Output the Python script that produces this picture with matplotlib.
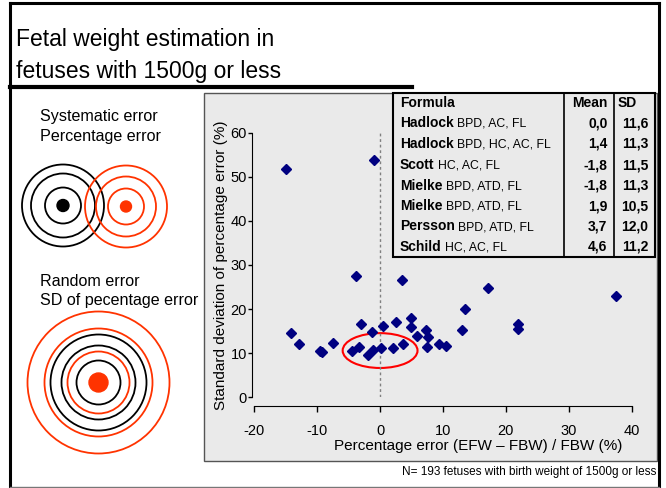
import numpy as np
import matplotlib
matplotlib.use('Agg')
import matplotlib.pyplot as plt
from matplotlib.patches import Ellipse, Circle, Rectangle
from matplotlib import font_manager

plt.rcParams['font.family'] = ['Liberation Sans', 'DejaVu Sans']
plt.rcParams['axes.unicode_minus'] = False

# mean percentage error vs SD of percentage error, one point per formula
mean_err = [-14.9, -1.0, -14.2, -12.9, -9.5, -9.3, -7.5, -4.4, -3.4, -3.9, -3.0,
            -1.3, -1.9, -1.2, 0.4, 0.2, 2.5, 2.0, 3.5, 3.7, 4.9, 4.9, 5.8,
            7.3, 7.6, 7.5, 9.4, 10.4, 13.1, 13.5, 17.1, 21.9, 21.9, 37.5]
sd_err = [51.7, 53.9, 14.5, 12.0, 10.5, 10.3, 12.4, 10.6, 11.3, 27.5, 16.6,
          14.8, 9.5, 10.8, 16.1, 11.1, 17.1, 11.1, 26.7, 12.0, 17.9, 15.9, 13.8,
          15.2, 13.6, 11.4, 12.0, 11.7, 15.3, 20.0, 24.8, 16.7, 15.5, 23.0]

tbl_names = ['Hadlock', 'Hadlock', 'Scott', 'Mielke', 'Mielke', 'Persson', 'Schild']
tbl_params = ['BPD, AC, FL', 'BPD, HC, AC, FL', 'HC, AC, FL', 'BPD, ATD, FL',
              'BPD, ATD, FL', 'BPD, ATD, FL', 'HC, AC, FL']
tbl_mean = ['0,0', '1,4', '-1,8', '-1,8', '1,9', '3,7', '4,6']
tbl_sd = ['11,6', '11,3', '11,5', '11,3', '10,5', '12,0', '11,2']

red = '#ff3300'
panel_gray = '#eaeaea'

fig = plt.figure(figsize=(6.66, 4.88), dpi=100)

# background layer in pixel coordinates
bg = fig.add_axes([0, 0, 1, 1], zorder=0)
bg.set_xlim(0, 666)
bg.set_ylim(488, 0)
bg.axis('off')

# slide frame
bg.plot([10, 10], [3, 487], color='black', lw=2.2)
bg.plot([10, 659], [3, 3], color='black', lw=2.2)
bg.plot([659, 659], [3, 487], color='black', lw=2.2)
bg.plot([10, 659], [487, 487], color='#777777', lw=1)
bg.plot([10, 412], [87, 87], color='black', lw=3)

# title (narrow face if we have it)
names = {f.name for f in font_manager.fontManager.ttflist}
tfam = ['Liberation Sans Narrow'] if 'Liberation Sans Narrow' in names else ['Liberation Sans']
tsize = 19.5 if tfam[0] == 'Liberation Sans Narrow' else 16.5
bg.text(16, 45.7, 'Fetal weight estimation in', fontsize=tsize, family=tfam, va='baseline')
bg.text(16, 78, 'fetuses with 1500g or less', fontsize=tsize, family=tfam, va='baseline')

# gray plot panel
bg.add_patch(Rectangle((204, 93), 453, 368, facecolor=panel_gray, edgecolor='#555555', lw=1))

# left side explanation
bg.text(40.5, 117, 'Systematic error', fontsize=11.6, va='center')
bg.text(40.5, 136, 'Percentage error', fontsize=11.6, va='center')
bg.text(40.5, 281, 'Random error', fontsize=11.6, va='center')
bg.text(40.5, 301, 'SD of pecentage error', fontsize=11.6, va='center')

for r in [41, 32, 18]:
    bg.add_patch(Circle((63, 205.5), r, fill=False, color='black', lw=1.3))
bg.add_patch(Circle((63, 205.5), 6, color='black'))
for r in [41, 30, 18]:
    bg.add_patch(Circle((126, 206.5), r, fill=False, color=red, lw=1.3))
bg.add_patch(Circle((126, 206.5), 5.5, color=red))

for r, c in [(71, red), (54, red), (48, 'black'), (37, 'black'), (31, red), (22, 'black')]:
    bg.add_patch(Circle((98.5, 382.5), r, fill=False, color=c, lw=1.3))
bg.add_patch(Circle((98.5, 382.5), 9.5, color=red))

# footnote
bg.text(656, 472, 'N= 193 fetuses with birth weight of 1500g or less', fontsize=8.5,
        ha='right', va='center')

# table
bg.add_patch(Rectangle((392.7, 93.3), 262.3, 163.4, facecolor=panel_gray, edgecolor='black', lw=1.5))
bg.plot([564.3, 564.3], [93.3, 256.7], color='black', lw=1.2)
bg.plot([614.3, 614.3], [93.3, 256.7], color='black', lw=1.2)
row_y = [102.7, 123.3, 144.0, 165.0, 185.7, 206.2, 226.5, 246.7]
bg.text(400, row_y[0], 'Formula', fontsize=10, weight='bold', va='center')
bg.text(607.5, row_y[0], 'Mean', fontsize=10, weight='bold', va='center', ha='right')
bg.text(618, row_y[0], 'SD', fontsize=10, weight='bold', va='center')
renderer = fig.canvas.get_renderer()
for i in range(len(tbl_names)):
    y = row_y[i + 1]
    t = bg.text(400, y, tbl_names[i], fontsize=10, weight='bold', va='center')
    w = t.get_window_extent(renderer=renderer).width
    bg.text(400 + w + 3.5, y + 0.6, tbl_params[i], fontsize=8.8, va='center')
    bg.text(607.5, y, tbl_mean[i], fontsize=10, weight='bold', va='center', ha='right')
    bg.text(648.5, y, tbl_sd[i], fontsize=10, weight='bold', va='center', ha='right')

# scatter axes
ax = fig.add_axes([254.3 / 666, 1 - 397.3 / 488, (631.7 - 254.3) / 666, (397.3 - 132.7) / 488], zorder=1)
ax.patch.set_alpha(0)
ax.set_xlim(-20, 40)
ax.set_ylim(0, 60)
ax.spines['top'].set_visible(False)
ax.spines['right'].set_visible(False)
ax.spines['left'].set_position(('outward', 1.3))
ax.spines['bottom'].set_position(('outward', 6.4))
ax.spines['left'].set_bounds(0, 60)
ax.spines['bottom'].set_bounds(-20, 40)
ax.set_xticks([-20, -10, 0, 10, 20, 30, 40])
ax.set_yticks([0, 10, 20, 30, 40, 50, 60])
ax.tick_params(axis='x', direction='out', length=4, width=1, labelsize=10.5, pad=9)
ax.tick_params(axis='y', direction='out', length=3, width=1, labelsize=10.5, pad=1)

ax.plot([0, 0], [0, 60], color='gray', lw=1, ls=(0, (2, 2)))
ax.plot(mean_err, sd_err, 'D', color='#000080', markersize=5, ls='none', clip_on=False)
ax.add_patch(Ellipse((0.0, 10.6), 11.9, 7.9, fill=False, color='red', lw=1.5))

fig.text(478.6 / 666, 1 - 446 / 488, 'Percentage error (EFW \u2013 FBW) / FBW (%)',
         fontsize=11, ha='center', va='center')
fig.text(221 / 666, 1 - 265 / 488, 'Standard deviation of percentage error (%)',
         fontsize=11, ha='center', va='center', rotation=90)

fig.savefig('out.png', dpi=100)
